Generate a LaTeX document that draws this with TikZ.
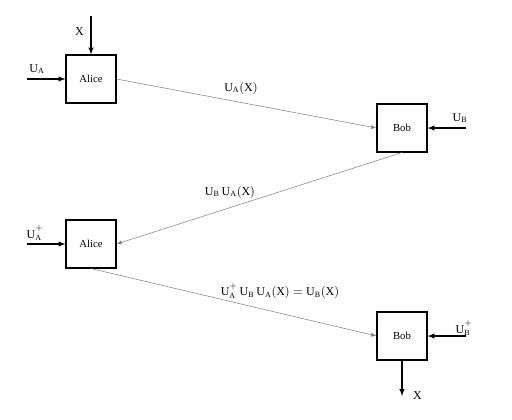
\documentclass[tikz,border=0pt]{standalone}
\usepackage{fontspec}
\setmainfont{Liberation Serif}
\setmathrm{Liberation Serif}
\newcommand{\dg}{\raisebox{2pt}{$\scriptstyle+$}}
\begin{document}
\begin{tikzpicture}[x=0.75pt,y=-0.75pt,
	party/.style={draw,thick,minimum width=37.5pt,minimum height=36pt,font=\footnotesize,inner sep=0pt},
	msg/.style={->,>=latex,gray,thin},
	key/.style={->,>=latex,thick},
	lbl/.style={font=\small,inner sep=0pt}]
	\useasboundingbox (0,0) rectangle (512,419);
	\node[party] (alicea) at (91,79) {Alice};
	\node[party] (bob) at (402,128) {Bob};
	\node[party] (aliceb) at (91,244) {Alice};
	\node[party] (bobb) at (402,336) {Bob};
	
	\coordinate (xin) at (91,16);
	\coordinate (ua) at (27,79);
	\coordinate (ub) at (466,128);
	\coordinate (uai) at (27,244);
	\coordinate (ubi) at (466,336);
	\coordinate (xout) at (402,396);
	
	\draw [key] (xin) -- (alicea) node[lbl,pos=0.4,left=5pt] {X};
	\draw [key] (ua) -- (alicea);
	\draw [key] (ub) -- (bob);
	\draw [key] (uai) -- (aliceb);
	\draw [key] (ubi) -- (bobb);
	\draw [key] (bobb) -- (xout) node[lbl,right=8pt] {X};
	
	\node[lbl] at (37,69) {$\mathrm{U}_{\mathrm{A}}$};
	\node[lbl] at (460,118) {$\mathrm{U}_{\mathrm{B}}$};
	\node[lbl] at (35,233) {$\mathrm{U}^{\dg}_{\mathrm{A}}$};
	\node[lbl] at (464,328) {$\mathrm{U}^{\dg}_{\mathrm{B}}$};
	
	\draw [msg] (alicea.east) -- (bob.west);
	\draw [msg] (bob.south) -- (aliceb.east);
	\draw [msg] (aliceb.south) -- (bobb.west);
	
	\node[lbl] at (241,88) {$\mathrm{U}_{\mathrm{A}}\mathrm{(X)}$};
	\node[lbl] at (230,192) {$\mathrm{U}_{\mathrm{B}}\,\mathrm{U}_{\mathrm{A}}\mathrm{(X)}$};
	\node[lbl] at (280,291) {$\mathrm{U}^{\dg}_{\mathrm{A}}\,\mathrm{U}_{\mathrm{B}}\,\mathrm{U}_{\mathrm{A}}\mathrm{(X)} = \mathrm{U}_{\mathrm{B}}\mathrm{(X)}$};
\end{tikzpicture}
\end{document}
